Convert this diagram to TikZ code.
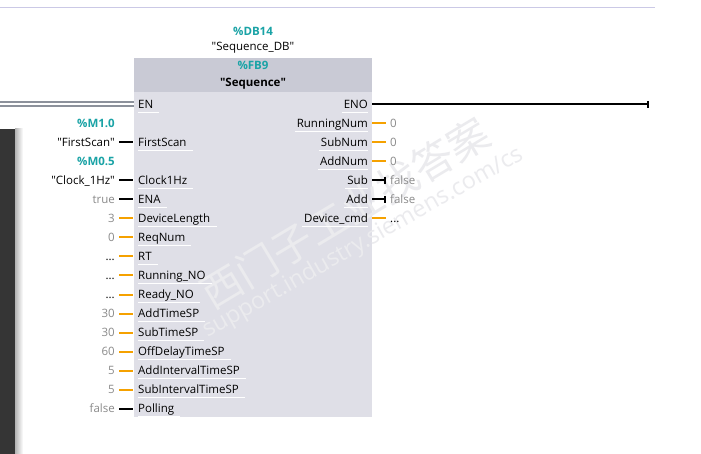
\documentclass[tikz,border=0pt]{standalone}
\usepackage{fontspec}
\setmainfont{Open Sans}
\newfontfamily\cjk{Noto Sans CJK SC}
\usetikzlibrary{calc,arrows.meta}
\pgfdeclarelayer{bg}
\pgfsetlayers{bg,main}
\definecolor{addrteal}{HTML}{1AA3A6}
\definecolor{plcorange}{HTML}{F5A100}
\definecolor{valgray}{HTML}{8A8A8A}
\definecolor{hdrgray}{HTML}{C9CAD5}
\definecolor{bodygray}{HTML}{DFDFE7}
\definecolor{enline}{HTML}{8C919B}
\definecolor{topline}{HTML}{CBC9E6}
\definecolor{panelgray}{HTML}{353535}
\definecolor{wmark}{HTML}{EBEBEE}
\newcommand{\qq}[1]{\textquotedbl#1\textquotedbl}
\tikzset{
  lbl/.style={font=\fontsize{11.5}{13}\selectfont, inner sep=0pt, text height=8.2pt, text depth=0pt},
  inl/.style={lbl, anchor=west},
  outl/.style={lbl, anchor=east},
  ival/.style={lbl, anchor=east, text=valgray},
  oval/.style={lbl, anchor=west, text=valgray},
  itag/.style={lbl, anchor=east},
  iaddr/.style={lbl, anchor=east, text=addrteal, font=\fontsize{11.5}{13}\selectfont\bfseries},
  wire/.style={line width=2pt},
  owire/.style={wire, plcorange},
  bwire/.style={wire, black},
  inw/.style={shorten <=4pt, shorten >=5pt},
  outw/.style={shorten <=4pt, shorten >=4pt},
  tick/.style={-{Bar[width=7pt,line width=2pt]}},
  ul/.style={white, line width=1pt},
}
\begin{document}
\begin{tikzpicture}[x=1pt,y=-1pt]
\useasboundingbox (0,0) rectangle (701,454);
% titles
\node[lbl, text=addrteal, font=\fontsize{11.5}{13}\selectfont\bfseries] (db) at (253,31) {\%DB14};
\node[lbl] (dbname) at (253,46) {\qq{Sequence\_DB}};
\node[lbl, text=addrteal, font=\fontsize{11.5}{13}\selectfont\bfseries] (fbnum) at (253,65) {\%FB9};
\node[lbl, font=\fontsize{11.5}{13}\selectfont\bfseries] (fbname) at (253,82) {\qq{Sequence}};
% inputs
\node[inl] (EN) at (138,104.5) {EN};
\coordinate (enL) at (0,104);
\draw[enline, line width=1.4pt, double=white, double distance=2.8pt, shorten >=4pt] (enL) -- (enL -| EN.west);

\node[inl] (iFirstScan) at (138,142.5) {FirstScan};
\node[itag] (vFirstScan) at (115,142.5) {\qq{FirstScan}};
\node[iaddr] (aFirstScan) at (115,123.5) {\%M1.0};
\draw[bwire, inw] (vFirstScan) -- (iFirstScan);

\node[inl] (iClock) at (138,180.5) {Clock1Hz};
\node[itag] (vClock) at (115,180.5) {\qq{Clock\_1Hz}};
\node[iaddr] (aClock) at (115,161.5) {\%M0.5};
\draw[bwire, inw] (vClock) -- (iClock);

\node[inl] (iENA) at (138,199.5) {ENA};
\node[ival] (vENA) at (115,199.5) {true};
\draw[bwire, inw] (vENA) -- (iENA);

\node[inl] (iDL) at (138,218.5) {DeviceLength};
\node[ival] (vDL) at (115,218.5) {3};
\draw[owire, inw] (vDL) -- (iDL);

\node[inl] (iReq) at (138,237.5) {ReqNum};
\node[ival] (vReq) at (115,237.5) {0};
\draw[owire, inw] (vReq) -- (iReq);

\node[inl] (iRT) at (138,256.5) {RT};
\node[itag] (vRT) at (115,256.5) {...};
\draw[owire, inw] (vRT.east |- iRT) -- (iRT);

\node[inl] (iRun) at (138,275.5) {Running\_NO};
\node[itag] (vRun) at (115,275.5) {...};
\draw[owire, inw] (vRun.east |- iRun) -- (iRun);

\node[inl] (iRdy) at (138,294.5) {Ready\_NO};
\node[itag] (vRdy) at (115,294.5) {...};
\draw[owire, inw] (vRdy.east |- iRdy) -- (iRdy);

\node[inl] (iATS) at (138,313.5) {AddTimeSP};
\node[ival] (vATS) at (115,313.5) {30};
\draw[owire, inw] (vATS) -- (iATS);

\node[inl] (iSTS) at (138,332.5) {SubTimeSP};
\node[ival] (vSTS) at (115,332.5) {30};
\draw[owire, inw] (vSTS) -- (iSTS);

\node[inl] (iODT) at (138,351.5) {OffDelayTimeSP};
\node[ival] (vODT) at (115,351.5) {60};
\draw[owire, inw] (vODT) -- (iODT);

\node[inl] (iAIT) at (138,370.5) {AddIntervalTimeSP};
\node[ival] (vAIT) at (115,370.5) {5};
\draw[owire, inw] (vAIT) -- (iAIT);

\node[inl] (iSIT) at (138,389.5) {SubIntervalTimeSP};
\node[ival] (vSIT) at (115,389.5) {5};
\draw[owire, inw] (vSIT) -- (iSIT);

\node[inl] (iPol) at (138,408.5) {Polling};
\node[ival] (vPol) at (115,408.5) {false};
\draw[bwire, inw] (vPol) -- (iPol);

% outputs
\node[outl] (ENO) at (368,104.5) {ENO};
\coordinate (enoEnd) at (649,104.5);
\draw[bwire, tick, shorten <=4pt] (ENO) -- (enoEnd);

\node[outl] (oRN) at (368,123.5) {RunningNum};
\node[oval] (wRN) at (390,123.5) {0};
\draw[owire, outw] (oRN) -- (wRN);

\node[outl] (oSN) at (368,142.5) {SubNum};
\node[oval] (wSN) at (390,142.5) {0};
\draw[owire, outw] (oSN) -- (wSN);

\node[outl] (oAN) at (368,161.5) {AddNum};
\node[oval] (wAN) at (390,161.5) {0};
\draw[owire, outw] (oAN) -- (wAN);

\node[outl] (oSub) at (368,180.5) {Sub};
\node[oval] (wSub) at (390,180.5) {false};
\draw[bwire, tick, outw] (oSub) -- (wSub);

\node[outl] (oAdd) at (368,199.5) {Add};
\node[oval] (wAdd) at (390,199.5) {false};
\draw[bwire, tick, outw] (oAdd) -- (wAdd);

\node[outl] (oDC) at (368,218.5) {Device\_cmd};
\node[oval, text=black] (wDC) at (390,218.5) {...};
\draw[owire, outw] (oDC) -- (wDC.west |- oDC);

\begin{pgfonlayer}{bg}
  \fill[white] (0,0) rectangle (701,454);
  \draw[topline, line width=1.2pt] (0,7.5) -- (655,7.5);
  \shade[left color=black!30, right color=white] (15,129) rectangle (23,454);
  \fill[panelgray] (0,129) rectangle (15,454);
  \node[fill=bodygray, minimum width=238pt, minimum height=359pt, anchor=north west, inner sep=0pt] (fb) at (134,58) {};
  \node[fill=hdrgray, minimum width=238pt, minimum height=34pt, anchor=north west, inner sep=0pt] (fbhdr) at (134,58) {};
  \node[text=wmark, rotate=31, font=\cjk\fontsize{41}{44}\selectfont] (wm1) at (345,213) {西门子工业找答案};
  \node[text=wmark, rotate=29.5, font=\fontsize{23.5}{26}\selectfont] (wm2) at (363,243) {support.industry.siemens.com/cs};
  \foreach \n in {EN,iFirstScan,iClock,iENA,iDL,iReq,iRT,iRun,iRdy,iATS,iSTS,iODT,iAIT,iSIT,iPol}
    \draw[ul] ($(\n.south west)+(0,3.5)$) -- ($(\n.south east)+(6,3.5)$);
  \foreach \n in {ENO,oRN,oSN,oAN,oSub,oAdd,oDC}
    \draw[ul] ($(\n.south west)+(-2,3.5)$) -- ($(\n.south east)+(0,3.5)$);
\end{pgfonlayer}
\end{tikzpicture}
\end{document}
